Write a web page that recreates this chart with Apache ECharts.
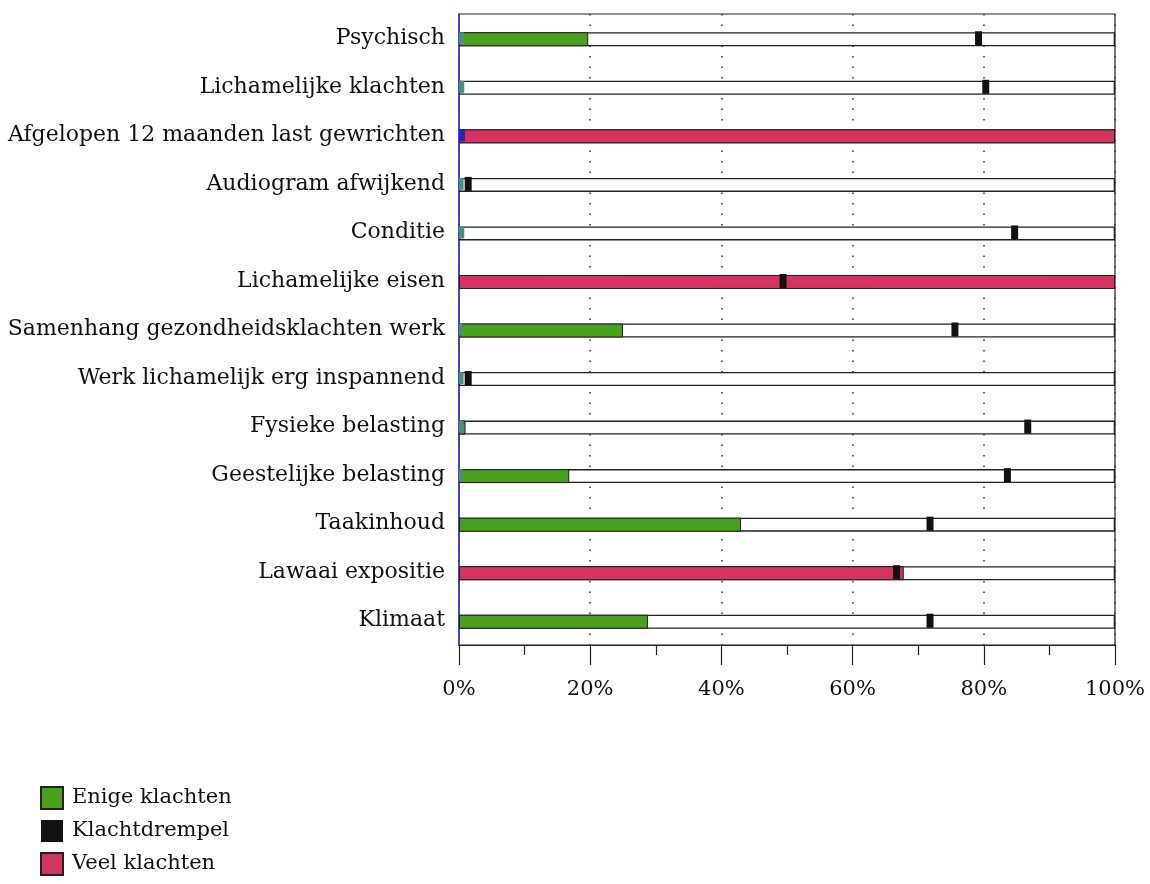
<!DOCTYPE html>
<html>
<head>
<meta charset="utf-8">
<script src="https://cdn.jsdelivr.net/npm/echarts@6/dist/echarts.min.js"></script>
<style>html,body{margin:0;padding:0;background:#fff}#c{width:1150px;height:884px}</style>
</head>
<body>
<div id="c"></div>
<script>
const categories = ['Psychisch','Lichamelijke klachten','Afgelopen 12 maanden last gewrichten','Audiogram afwijkend','Conditie','Lichamelijke eisen','Samenhang gezondheidsklachten werk','Werk lichamelijk erg inspannend','Fysieke belasting','Geestelijke belasting','Taakinhoud','Lawaai expositie','Klimaat'];
const track = [100,100,100,100,100,100,100,100,100,100,100,100,100];
const enigeKlachten = [19.7,null,null,null,null,null,25.0,null,1.0,16.8,43.0,null,28.8];
const veelKlachten = [null,null,100,null,null,100,null,null,null,null,null,67.8,null];
const klachtdrempel = [79.2,80.3,null,1.4,84.7,49.4,75.6,1.4,86.7,83.6,71.8,66.7,71.8];
const basis = [0.7,0.8,0.9,0.7,0.8,0,0.6,0.7,0.7,0.6,0,0,0];
const xTicks = [0,20,40,60,80,100];

const FONT = 'DejaVu Serif';
const chart = echarts.init(document.getElementById('c'), null, {renderer:'canvas'});
const barW = 14;
const option = {
  animation:false,
  backgroundColor:'#fff',
  textStyle:{fontFamily:FONT,color:'#111'},
  grid:{left:459,right:35,top:14,bottom:239,show:true,borderColor:'#222',borderWidth:1.2,backgroundColor:'transparent'},
  legend:{
    orient:'vertical',left:40,top:786,height:110,padding:0,itemWidth:22,itemHeight:22,itemGap:10,
    icon:'rect',
    data:['Enige klachten','Klachtdrempel','Veel klachten'],
    textStyle:{fontFamily:FONT,fontSize:21,color:'#111',padding:[0,0,0,4]},
    selectedMode:false
  },
  xAxis:{
    type:'value',min:0,max:100,interval:20,
    axisLine:{show:true,lineStyle:{color:'#222',width:1.2}},
    axisTick:{show:true,length:20,lineStyle:{color:'#222',width:1.2}},
    minorTick:{show:true,splitNumber:2,length:10,lineStyle:{color:'#222',width:1.2}},
    splitLine:{show:true,lineStyle:{color:'#333',type:[1.5,9],width:1.5}},
    axisLabel:{margin:34,fontFamily:FONT,fontSize:21,color:'#111',formatter:v=>xTicks.includes(v)?v+'%':''}
  },
  yAxis:{
    type:'category',inverse:true,data:categories,
    axisLine:{show:true,lineStyle:{color:'#3a3ad6',width:1.5}},
    axisTick:{show:false},
    axisLabel:{margin:14,fontFamily:FONT,fontSize:22,color:'#111'}
  },
  series:[
    {name:'track',type:'bar',data:track,barWidth:barW,barGap:'-100%',z:1,silent:true,
     itemStyle:{color:'#fff',borderColor:'#222',borderWidth:1.3}},
    {name:'Enige klachten',type:'bar',data:enigeKlachten,barWidth:barW,barGap:'-100%',z:2,
     itemStyle:{color:'#48a01c',borderColor:'#222',borderWidth:1}},
    {name:'Veel klachten',type:'bar',data:veelKlachten,barWidth:barW,barGap:'-100%',z:2,
     itemStyle:{color:'#d3335e',borderColor:'#222',borderWidth:1}},
    {name:'basis',type:'bar',barWidth:barW-2,barGap:'-100%',z:3,silent:true,
     data:basis.map((v,i)=>({value:v,itemStyle:{color:i===2?'#2323c8':'#4c8c84'}})),
     itemStyle:{borderWidth:0}},
    {name:'Klachtdrempel',type:'scatter',symbol:'rect',symbolSize:[7,14],z:4,
     data:klachtdrempel.map((v,i)=>v==null?null:[v,categories[i]]).filter(d=>d),
     itemStyle:{color:'#111',opacity:1}}
  ]
};
chart.setOption(option);
</script>
</body>
</html>
